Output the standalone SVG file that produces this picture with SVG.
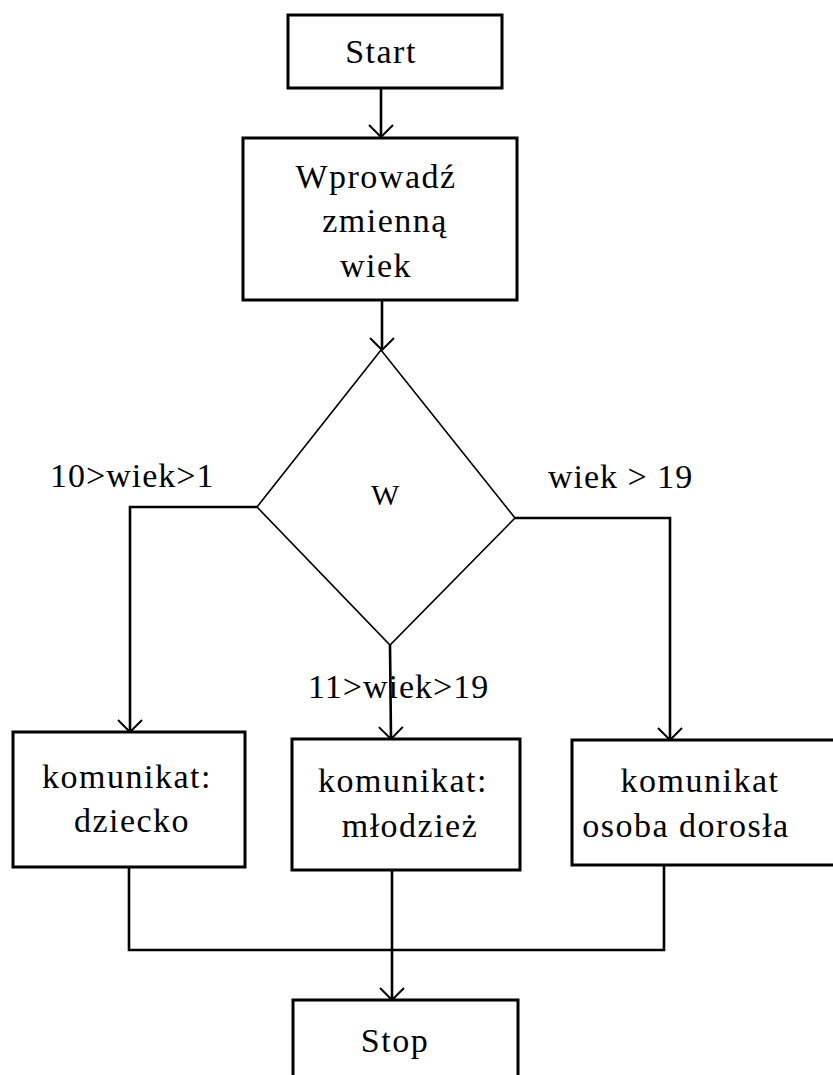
<svg xmlns="http://www.w3.org/2000/svg" width="833" height="1075" viewBox="0 0 833 1075">
  <style>
    .box { fill: #fff; stroke: #000; stroke-width: 3; }
    .dia { fill: #fff; stroke: #000; stroke-width: 1.6; }
    .lbl { font-family: "Liberation Serif", "Times New Roman", serif; font-size: 34px; letter-spacing: 1.5px; fill: #000; text-anchor: middle; }
    .cond { font-family: "Liberation Serif", "Times New Roman", serif; font-size: 34px; letter-spacing: 1px; fill: #000; }
    .wire { fill: none; stroke: #000; stroke-width: 2.6; }
    .arr { fill: none; stroke: #000; stroke-width: 2.6; marker-end: url(#vhead); }
  </style>
  <defs>
    <marker id="vhead" markerUnits="userSpaceOnUse" markerWidth="30" markerHeight="30" refX="15" refY="15" orient="auto" viewBox="0 0 30 30">
      <path d="M15 15 L3 3 M15 15 L3 27" fill="none" stroke="#000" stroke-width="2"/>
    </marker>
  </defs>
  <rect width="833" height="1075" fill="#fff"/>

  <!-- connectors -->
  <g id="connectors">
    <line class="arr" x1="381" y1="88" x2="381" y2="137"/>
    <line class="arr" x1="382" y1="300" x2="382" y2="350"/>
    <polyline class="arr" points="257,507 130,507 130,732"/>
    <polyline class="arr" points="515,518 670,518 670,740"/>
    <line class="arr" x1="390" y1="645" x2="391" y2="739"/>
    <polyline class="wire" points="129,867 129,950 664,950 664,865"/>
    <line class="arr" x1="392" y1="870" x2="392" y2="1000"/>
    <text class="cond" x="50" y="487">10&gt;wiek&gt;1</text>
    <text class="cond" x="548" y="488">wiek &gt; 19</text>
    <text class="cond" x="308" y="698">11&gt;wiek&gt;19</text>
  </g>

  <g id="start">
    <rect class="box" x="288" y="15" width="214" height="73"/>
    <text class="lbl" x="381" y="63">Start</text>
  </g>

  <g id="input">
    <rect class="box" x="243" y="138" width="274" height="162"/>
    <text class="lbl" x="376" y="188">Wprowadź</text>
    <text class="lbl" x="385" y="232">zmienną</text>
    <text class="lbl" x="376" y="277">wiek</text>
  </g>

  <g id="decision">
    <polygon class="dia" points="381,350 257,507 390,645 515,518"/>
    <text class="lbl" x="386" y="505" style="font-size:30px">W</text>
  </g>

  <g id="msg-child">
    <rect class="box" x="13" y="732" width="232" height="135"/>
    <text class="lbl" x="127" y="788">komunikat:</text>
    <text class="lbl" x="132" y="832">dziecko</text>
  </g>

  <g id="msg-youth">
    <rect class="box" x="292" y="739" width="228" height="131"/>
    <text class="lbl" x="403" y="792">komunikat:</text>
    <text class="lbl" x="410" y="837">młodzież</text>
  </g>

  <g id="msg-adult">
    <rect class="box" x="572" y="740" width="270" height="125"/>
    <text class="lbl" x="700" y="792">komunikat</text>
    <text class="lbl" x="686" y="837">osoba dorosła</text>
  </g>

  <g id="stop">
    <rect class="box" x="293" y="1000" width="225" height="90"/>
    <text class="lbl" x="395" y="1052">Stop</text>
  </g>
</svg>
